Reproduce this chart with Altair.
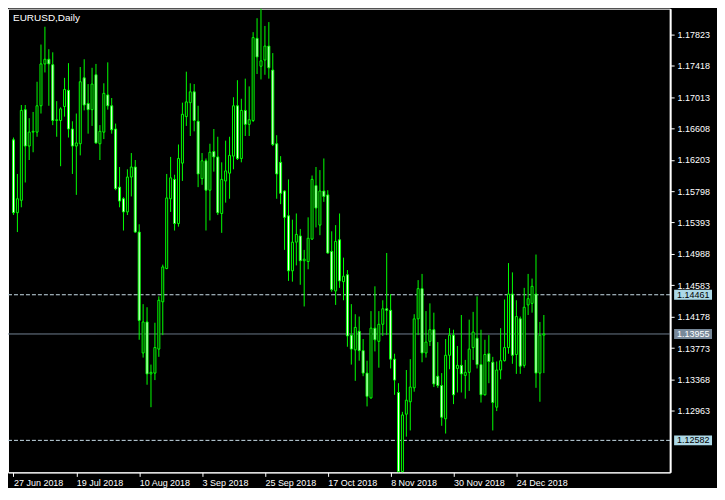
import altair as alt
import pandas as pd
import numpy as np

# ---- data (EURUSD daily) ----
opens = [1.1646,1.1552,1.1568,1.1685,1.1638,1.1656,1.1656,1.1690,1.1744,1.1750,
         1.1743,1.1671,1.1671,1.1689,1.1710,1.1660,1.1638,1.1641,1.1726,1.1693,
         1.1685,1.1730,1.1641,1.1656,1.1704,1.1690,1.1660,1.1585,1.1570,1.1553,
         1.1598,1.1611,1.1527,1.1371,1.1411,1.1344,1.1345,1.1376,1.1437,1.1480,
         1.1570,1.1595,1.1538,1.1616,1.1676,1.1694,1.1708,1.1670,1.1596,1.1619,
         1.1581,1.1631,1.1624,1.1551,1.1593,1.1603,1.1625,1.1690,1.1622,1.1684,
         1.1666,1.1671,1.1777,1.1741,1.1749,1.1767,1.1736,1.1641,1.1617,1.1580,
         1.1548,1.1477,1.1514,1.1522,1.1490,1.1489,1.1518,1.1587,1.1536,1.1580,
         1.1575,1.1502,1.1451,1.1517,1.1463,1.1472,1.1394,1.1375,1.1399,1.1374,
         1.1345,1.1313,1.1403,1.1386,1.1408,1.1428,1.1426,1.1363,1.1320,1.1218,
         1.1292,1.1308,1.1326,1.1415,1.1454,1.1371,1.1386,1.1401,1.1341,1.1329,
         1.1286,1.1368,1.1394,1.1351,1.1355,1.1342,1.1346,1.1378,1.1390,1.1356,
         1.1317,1.1370,1.1359,1.1301,1.1349,1.1361,1.1378,1.1447,1.1369,1.1415,
         1.1355,1.1433,1.1435,1.1447,1.1345,1.1394]
highs = [1.1649,1.1602,1.1691,1.1691,1.1674,1.1682,1.1721,1.1769,1.1792,1.1763,
         1.1759,1.1696,1.1688,1.1726,1.1745,1.1670,1.1680,1.1740,1.1750,1.1718,
         1.1739,1.1744,1.1665,1.1719,1.1746,1.1700,1.1667,1.1611,1.1572,1.1608,
         1.1629,1.1620,1.1537,1.1434,1.1430,1.1356,1.1410,1.1444,1.1485,1.1602,
         1.1624,1.1601,1.1640,1.1694,1.1734,1.1719,1.1718,1.1690,1.1629,1.1622,
         1.1641,1.1660,1.1650,1.1617,1.1645,1.1650,1.1701,1.1723,1.1699,1.1725,
         1.1715,1.1785,1.1803,1.1816,1.1793,1.1798,1.1758,1.1652,1.1625,1.1581,
         1.1595,1.1543,1.1551,1.1531,1.1504,1.1546,1.1600,1.1611,1.1607,1.1622,
         1.1581,1.1528,1.1536,1.1551,1.1494,1.1478,1.1434,1.1421,1.1418,1.1389,
         1.1361,1.1425,1.1457,1.1425,1.1439,1.1500,1.1447,1.1370,1.1332,1.1295,
         1.1349,1.1363,1.1421,1.1465,1.1473,1.1425,1.1435,1.1423,1.1385,1.1345,
         1.1389,1.1403,1.1401,1.1380,1.1420,1.1362,1.1414,1.1424,1.1444,1.1401,
         1.1388,1.1394,1.1366,1.1360,1.1403,1.1440,1.1487,1.1475,1.1439,1.1418,
         1.1455,1.1473,1.1467,1.1498,1.1411,1.1420]
lows = [1.1549,1.1527,1.1559,1.1591,1.1620,1.1630,1.1650,1.1680,1.1733,1.1690,
        1.1665,1.1650,1.1612,1.1676,1.1649,1.1602,1.1575,1.1626,1.1684,1.1654,
        1.1664,1.1641,1.1620,1.1647,1.1685,1.1654,1.1581,1.1559,1.1529,1.1549,
        1.1573,1.1526,1.1388,1.1365,1.1330,1.1301,1.1336,1.1366,1.1394,1.1479,
        1.1553,1.1529,1.1534,1.1593,1.1664,1.1651,1.1657,1.1585,1.1588,1.1529,
        1.1542,1.1605,1.1549,1.1526,1.1565,1.1570,1.1608,1.1620,1.1617,1.1651,
        1.1651,1.1669,1.1731,1.1724,1.1730,1.1725,1.1638,1.1570,1.1563,1.1504,
        1.1464,1.1463,1.1484,1.1459,1.1431,1.1479,1.1517,1.1533,1.1523,1.1566,
        1.1499,1.1450,1.1433,1.1455,1.1439,1.1379,1.1356,1.1335,1.1361,1.1341,
        1.1302,1.1312,1.1373,1.1352,1.1393,1.1394,1.1351,1.1317,1.1210,1.1210,
        1.1263,1.1271,1.1321,1.1394,1.1359,1.1365,1.1380,1.1327,1.1326,1.1277,
        1.1267,1.1350,1.1305,1.1320,1.1320,1.1312,1.1322,1.1362,1.1351,1.1307,
        1.1316,1.1332,1.1271,1.1296,1.1337,1.1360,1.1370,1.1357,1.1344,1.1344,
        1.1352,1.1420,1.1423,1.1326,1.1308,1.1345]
closes = [1.1552,1.1570,1.1684,1.1638,1.1656,1.1657,1.1690,1.1744,1.1750,1.1744,
          1.1671,1.1672,1.1686,1.1711,1.1660,1.1638,1.1642,1.1721,1.1691,1.1685,
          1.1718,1.1642,1.1657,1.1706,1.1690,1.1659,1.1583,1.1567,1.1553,1.1598,
          1.1611,1.1527,1.1413,1.1411,1.1344,1.1346,1.1378,1.1439,1.1482,1.1571,
          1.1597,1.1538,1.1622,1.1679,1.1695,1.1708,1.1671,1.1602,1.1619,1.1581,
          1.1630,1.1624,1.1552,1.1595,1.1606,1.1626,1.1690,1.1622,1.1684,1.1666,
          1.1672,1.1778,1.1753,1.1748,1.1767,1.1739,1.1640,1.1602,1.1577,1.1546,
          1.1477,1.1514,1.1524,1.1490,1.1492,1.1519,1.1595,1.1558,1.1580,1.1573,
          1.1500,1.1453,1.1515,1.1464,1.1470,1.1393,1.1376,1.1404,1.1374,1.1345,
          1.1315,1.1403,1.1388,1.1408,1.1428,1.1426,1.1363,1.1336,1.1218,1.1291,
          1.1310,1.1327,1.1415,1.1454,1.1371,1.1385,1.1401,1.1331,1.1329,1.1288,
          1.1368,1.1394,1.1317,1.1355,1.1344,1.1346,1.1376,1.1398,1.1356,1.1317,
          1.1369,1.1360,1.1307,1.1349,1.1361,1.1378,1.1447,1.1368,1.1418,1.1354,
          1.1430,1.1441,1.1457,1.1345,1.1394,1.13955]

date_labels = ["27 Jun 2018", "19 Jul 2018", "10 Aug 2018", "3 Sep 2018",
               "25 Sep 2018", "17 Oct 2018", "8 Nov 2018", "30 Nov 2018",
               "24 Dec 2018"]
label_step = 16  # bars between date labels

price_ticks = [1.12963, 1.13368, 1.13773, 1.14178, 1.14583, 1.14988, 1.15393,
               1.15798, 1.16203, 1.16608, 1.17013, 1.17418, 1.17823]
level_prices = [1.14461, 1.13955, 1.12582]
level_kind = ["dash", "bid", "dash"]

y_domain = [1.12169, 1.18153]

W, H = 664, 465
n_view = W / 4.0
FONT = "Liberation Sans"
GREEN = "#00FF00"

df = pd.DataFrame({"i": np.arange(len(opens)), "open": opens, "high": highs,
                   "low": lows, "close": closes})
df["dir"] = np.where(df["close"] > df["open"], "up", "down")

lv = pd.DataFrame({"price": level_prices, "kind": level_kind})
lv["label"] = lv["price"].map(lambda v: f"{v:.5f}")

xscale = alt.Scale(domain=[-0.125, n_view - 0.125], nice=False, zero=False)
yscale = alt.Scale(domain=y_domain, nice=False, zero=False)

label_arr = "[" + ",".join(f"'{s}'" for s in date_labels) + "]"
xaxis = alt.Axis(values=[k * label_step for k in range(len(date_labels))],
                 labelExpr=f"{label_arr}[round(datum.value/{label_step})]",
                 title=None, grid=False, labelColor="white", tickColor="white",
                 domainColor="white", tickSize=4, labelAlign="left",
                 labelFlush=False, labelOverlap=False, labelPadding=2,
                 labelFont=FONT, labelFontSize=9)
yaxis = alt.Axis(values=price_ticks, format=".5f", orient="right", title=None,
                 grid=False, labelColor="white", tickColor="white",
                 domainColor="white", domainWidth=2, tickSize=4,
                 labelOverlap=False, labelPadding=3, labelFont=FONT,
                 labelFontSize=9, labelBaseline="middle")

X = alt.X("i:Q", scale=xscale, axis=xaxis)

hlines = alt.Chart(lv).mark_rule(strokeWidth=1, clip=True).encode(
    y=alt.Y("price:Q", scale=yscale, axis=yaxis),
    x=alt.value(0), x2=alt.value(W),
    color=alt.Color("kind:N", scale=alt.Scale(domain=["dash", "bid"],
                    range=["#C8DDE8", "#778899"]), legend=None),
    strokeDash=alt.StrokeDash("kind:N", scale=alt.Scale(domain=["dash", "bid"],
                    range=[[4, 2], [1, 0]]), legend=None),
)

wicks = alt.Chart(df).mark_rule(color=GREEN, strokeWidth=1, clip=True).encode(
    x=X,
    y=alt.Y("low:Q", scale=yscale, axis=yaxis),
    y2="high:Q",
)

bodies = alt.Chart(df).mark_bar(width=2, stroke=GREEN, strokeWidth=1,
                                clip=True).encode(
    x=X,
    y=alt.Y("open:Q", scale=yscale, axis=yaxis),
    y2="close:Q",
    fill=alt.Fill("dir:N", scale=alt.Scale(domain=["up", "down"],
                  range=["black", "white"]), legend=None),
)

boxes = alt.Chart(lv).mark_rule(strokeWidth=10, strokeCap="butt").encode(
    y=alt.Y("price:Q", scale=yscale, axis=yaxis),
    x=alt.value(W + 4), x2=alt.value(W + 42),
    color=alt.Color("kind:N", scale=alt.Scale(domain=["dash", "bid"],
                    range=["#ADD8E6", "#778899"]), legend=None),
)

box_text = alt.Chart(lv).mark_text(align="left", baseline="middle",
                                   font=FONT, fontSize=9).encode(
    y=alt.Y("price:Q", scale=yscale, axis=yaxis),
    x=alt.value(W + 7),
    text="label:N",
    color=alt.Color("kind:N", scale=alt.Scale(domain=["dash", "bid"],
                    range=["black", "white"]), legend=None),
)

title = alt.Chart(pd.DataFrame({"t": ["EURUSD,Daily"]})).mark_text(
    align="left", baseline="middle", color="white", font=FONT, fontSize=10
).encode(text="t:N", x=alt.value(5), y=alt.value(9))

chart = alt.layer(hlines, wicks, bodies, boxes, box_text, title).resolve_scale(
    color="independent"
).properties(width=W, height=H, padding=0, background="black").configure_view(
    stroke="white", strokeWidth=1, fill="black"
)

chart.save("out.html", embed_options={"renderer": "svg", "actions": False})
